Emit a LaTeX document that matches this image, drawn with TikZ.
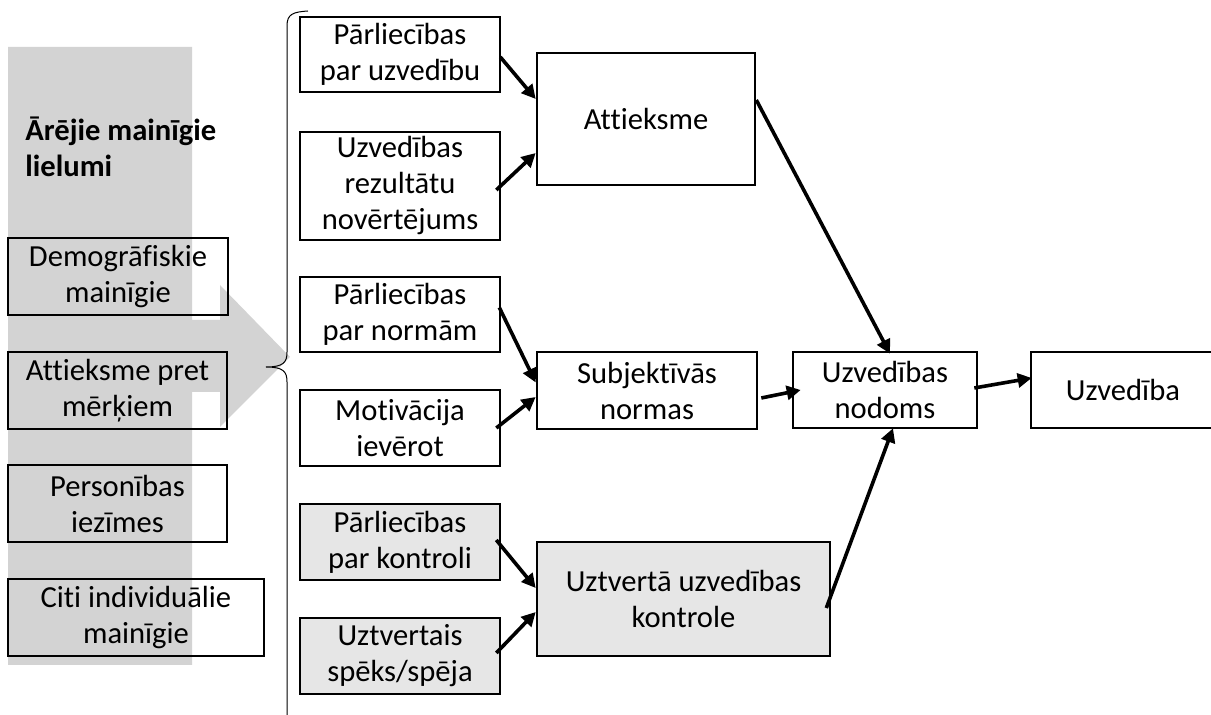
\documentclass[tikz,border=0pt]{standalone}
\usepackage{fontspec}
\setmainfont{Carlito}[Ligatures=NoCommon]
\usetikzlibrary{arrows.meta,calc}
\definecolor{arrowgrey}{RGB}{211,211,211}
\definecolor{boxgrey}{RGB}{230,230,230}

\tikzset{
  box/.style={draw, line width=1.3pt, inner sep=0pt, align=center, font=\fontsize{15.3}{18}\selectfont},
  greybox/.style={box, fill=boxgrey},
  conn/.style={line width=1.8pt, -{Triangle[length=7pt,width=7pt]}},
}

\begin{document}
\begin{tikzpicture}[x=0.5pt, y=-0.5pt]
  \useasboundingbox (0,0) rectangle (1211,715);

  % Big grey arrow behind the left column
  \fill[arrowgrey] (8,47) -- (192,47) -- (192,320) -- (220,320) -- (220,285) -- (290,357)
    -- (220,427) -- (220,392) -- (192,392) -- (192,665) -- (8,665) -- cycle;

  % External variables
  \node[font=\fontsize{15.3}{18}\selectfont\bfseries, align=left, anchor=west, inner sep=0pt] (ext) at (25,147) {Ārējie mainīgie\\lielumi};
  \node[box, minimum width=110pt, minimum height=38.5pt] (dem) at (118,276.5) {Demogrāfiskie\\mainīgie};
  \node[box, minimum width=109.5pt, minimum height=38.5pt] (atp) at (117.5,390.5) {Attieksme pret\\mērķiem};
  \node[box, minimum width=109.5pt, minimum height=38.5pt] (per) at (117.5,503.5) {Personības\\iezīmes};
  \node[box, minimum width=128pt, minimum height=38.5pt] (citi) at (136,617.5) {Citi individuālie\\mainīgie};

  % Brace
  \draw[line width=0.5pt] (308,11) .. controls (293,12) and (287,14) .. (287,26) -- (287,352)
    .. controls (287,362) and (284,367) .. (266,367) .. controls (284,367) and (287,372) .. (287,382) -- (287,715);

  % Beliefs
  \node[box, minimum width=100pt, minimum height=37.5pt] (pu) at (400,54.5) {Pārliecības\\par uzvedību};
  \node[box, minimum width=100pt, minimum height=54pt] (urn) at (400,186) {Uzvedības\\rezultātu\\novērtējums};
  \node[box, minimum width=100pt, minimum height=37.5pt] (pn) at (400,314.5) {Pārliecības\\par normām};
  \node[box, minimum width=100pt, minimum height=38pt] (mot) at (400,428) {Motivācija\\ievērot};
  \node[greybox, minimum width=100pt, minimum height=38pt] (pk) at (400,542) {Pārliecības\\par kontroli};
  \node[greybox, minimum width=100pt, minimum height=38pt] (usp) at (400,656) {Uztvertais\\spēks/spēja};

  % Determinants
  \node[box, minimum width=109pt, minimum height=66pt] (att) at (646,119) {Attieksme};
  \node[box, minimum width=110pt, minimum height=38.5pt] (sn) at (647,390.5) {Subjektīvās\\normas};
  \node[greybox, minimum width=146.5pt, minimum height=57pt] (kon) at (683.5,599) {Uztvertā uzvedības\\kontrole};
  \node[box, minimum width=92pt, minimum height=38pt] (nod) at (885,390) {Uzvedības\\nodoms};
  \node[box, minimum width=92pt, minimum height=38pt] (uzv) at (1123,390) {Uzvedība};

  % Arrows
  \draw[conn] ($(pu.east)+(-1,2.5)$) -- ($(att.west)+(0,-20)$);
  \draw[conn] ($(urn.east)+(-5,4)$) -- ($(att.west)+(0,34)$);
  \draw[conn] ($(pn.east)+(-2,-7)$) -- ($(sn.west)+(0,-8)$);
  \draw[conn] ($(mot.east)+(-5,0)$) -- ($(sn.west)+(0,6.5)$);
  \draw[conn] ($(pk.east)+(-5,-2)$) -- ($(kon.west)+(0,-11)$);
  \draw[conn] ($(usp.east)+(-5,-3)$) -- ($(kon.west)+(0,13)$);
  \draw[conn] ($(sn.east)+(3,7.5)$) -- ($(nod.west)+(9,0)$);
  \draw[conn] ($(att.east)+(0,-19)$) -- ($(nod.north)+(5,3)$);
  \draw[conn] ($(kon.east)+(-5,9)$) -- ($(nod.south)+(8,-1)$);
  \draw[conn] ($(nod.east)+(-4,-2)$) -- ($(uzv.west)+(2,-12)$);
\end{tikzpicture}
\end{document}
